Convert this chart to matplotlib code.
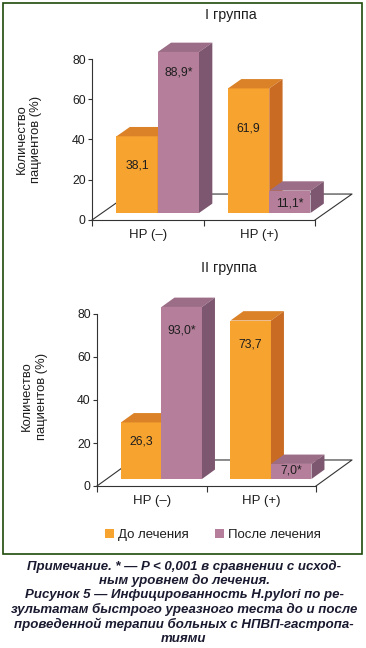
import matplotlib
matplotlib.use('Agg')
import matplotlib.pyplot as plt
from matplotlib.patches import Polygon, Rectangle, Patch

plt.rcParams['font.family'] = ['Liberation Sans', 'DejaVu Sans']

categories = ['HP (–)', 'HP (+)']
series = ['До лечения', 'После лечения']
group_titles = ['I группа', 'II группа']
g1_before = [38.1, 61.9]
g1_after = [88.9, 11.1]
g2_before = [26.3, 73.7]
g2_after = [93.0, 7.0]
yticks = [0, 20, 40, 60, 80]
ymax = 80

# where the value labels sit (axis units)
g1_before_ly = [26.9, 45.3]
g1_after_ly = [73.1, 8.0]
g2_before_ly = [20.5, 66.0]
g2_after_ly = [72.1, 7.4]

caption = ["Примечание. * — P < 0,001 в сравнении с исход-",
           "ным уровнем до лечения.",
           "Рисунок 5 — Инфицированность H.pylori по ре-",
           "зультатам быстрого уреазного теста до и после",
           "проведенной терапии больных с НПВП-гастропа-",
           "тиями"]

orange = ('#F7A32F', '#DB8229', '#C96B22')   # front, top, side
purple = ('#B57F9B', '#9C6D87', '#7D566F')
txt = '#1e1e1e'

W, H = 366, 648
fig = plt.figure(figsize=(W / 100, H / 100), dpi=100)


def fmt(v, star):
    s = f"{v:.1f}".replace('.', ',')
    return s + '*' if star else s


def draw_group(ax, before, after, bly, aly, dx, dy):
    f0, fb, bw = 0.27, 0.36, 0.37
    ox, oy = f0 * dx, f0 * dy
    bdx, bdy = fb * dx, fb * dy
    n = len(categories)
    # floor outline
    ax.plot([0, dx, n + dx, n], [0, dy, dy, 0], color='#333333', lw=0.8,
            clip_on=False, zorder=1)
    for i in range(n):
        for j, (vals, ly, cols, star) in enumerate([(before, bly, orange, False),
                                                    (after, aly, purple, True)]):
            h = min(vals[i], ymax)
            x0 = i + 0.13 + j * bw + ox
            x1 = x0 + bw
            y0, y1 = oy, oy + h
            z = 2 + i * 2 + j
            ax.add_patch(Polygon([(x0, y0), (x1, y0), (x1, y1), (x0, y1)],
                                 fc=cols[0], ec='none', clip_on=False, zorder=z))
            ax.add_patch(Polygon([(x0, y1), (x1, y1), (x1 + bdx, y1 + bdy), (x0 + bdx, y1 + bdy)],
                                 fc=cols[1], ec='none', clip_on=False, zorder=z))
            ax.add_patch(Polygon([(x1, y0), (x1 + bdx, y0 + bdy), (x1 + bdx, y1 + bdy), (x1, y1)],
                                 fc=cols[2], ec='none', clip_on=False, zorder=z))
            ax.text((x0 + x1) / 2, ly[i], fmt(vals[i], star), ha='center', va='center',
                    fontsize=8.8, color=txt, zorder=20)
    ax.set_xlim(0, n)
    ax.set_ylim(0, ymax)
    ax.set_yticks(yticks)
    ax.set_xticks(range(n + 1))
    ax.set_xticklabels([])
    ax.set_xticks([i + 0.5 for i in range(n)], minor=True)
    ax.set_xticklabels(categories, minor=True)
    ax.tick_params(axis='x', which='minor', length=0, pad=6.5, labelsize=9.5, labelcolor=txt)
    ax.tick_params(axis='x', which='major', length=4.5, width=0.8, color='#333333')
    ax.tick_params(axis='y', length=3, width=0.8, pad=1.5, labelsize=8.8,
                   labelcolor=txt, color='#333333')
    for s in ['top', 'right']:
        ax.spines[s].set_visible(False)
    for s in ['left', 'bottom']:
        ax.spines[s].set_color('#333333')
        ax.spines[s].set_linewidth(0.8)
    ax.patch.set_visible(False)
    ax.set_ylabel('Количество\nпациентов (%)', fontsize=9.4, color=txt, linespacing=1.3)


# group I
ax1 = fig.add_axes([92 / W, (H - 220) / H, 223 / W, 161 / H])
draw_group(ax1, g1_before, g1_after, g1_before_ly, g1_after_ly, 0.332, 12.9)
ax1.yaxis.set_label_coords(-0.222, 0.5)
fig.text(231 / W, 1 - 15 / H, group_titles[0], ha='center', va='center', fontsize=10.3, color=txt)

# group II
ax2 = fig.add_axes([97 / W, (H - 486) / H, 219 / W, 172 / H])
draw_group(ax2, g2_before, g2_after, g2_before_ly, g2_after_ly, 0.329, 12.1)
ax2.yaxis.set_label_coords(-0.226, 0.52)
fig.text(229 / W, 1 - 268 / H, group_titles[1], ha='center', va='center', fontsize=10.3, color=txt)

handles = [Patch(fc=orange[0], ec='none'), Patch(fc=purple[0], ec='none')]
fig.legend(handles, series, loc='center', bbox_to_anchor=(213 / W, 1 - 535 / H), ncol=2,
           frameon=False, fontsize=9.5, handlelength=0.7, handleheight=0.7,
           handletextpad=0.3, columnspacing=2.0, labelcolor=txt)

# frame
fig.add_artist(Rectangle((2.7 / W, 1 - 554 / H), 359.6 / W, 551.3 / H, transform=fig.transFigure,
                         fill=False, ec='#1f4a0a', lw=1.2))

for k, line in enumerate(caption):
    fig.text(184 / W, 1 - (566 + k * 14.5) / H, line, ha='center', va='center',
             fontsize=9.5, fontweight='bold', fontstyle='italic', color='#1a1a30')

fig.savefig('out.png', dpi=100)
